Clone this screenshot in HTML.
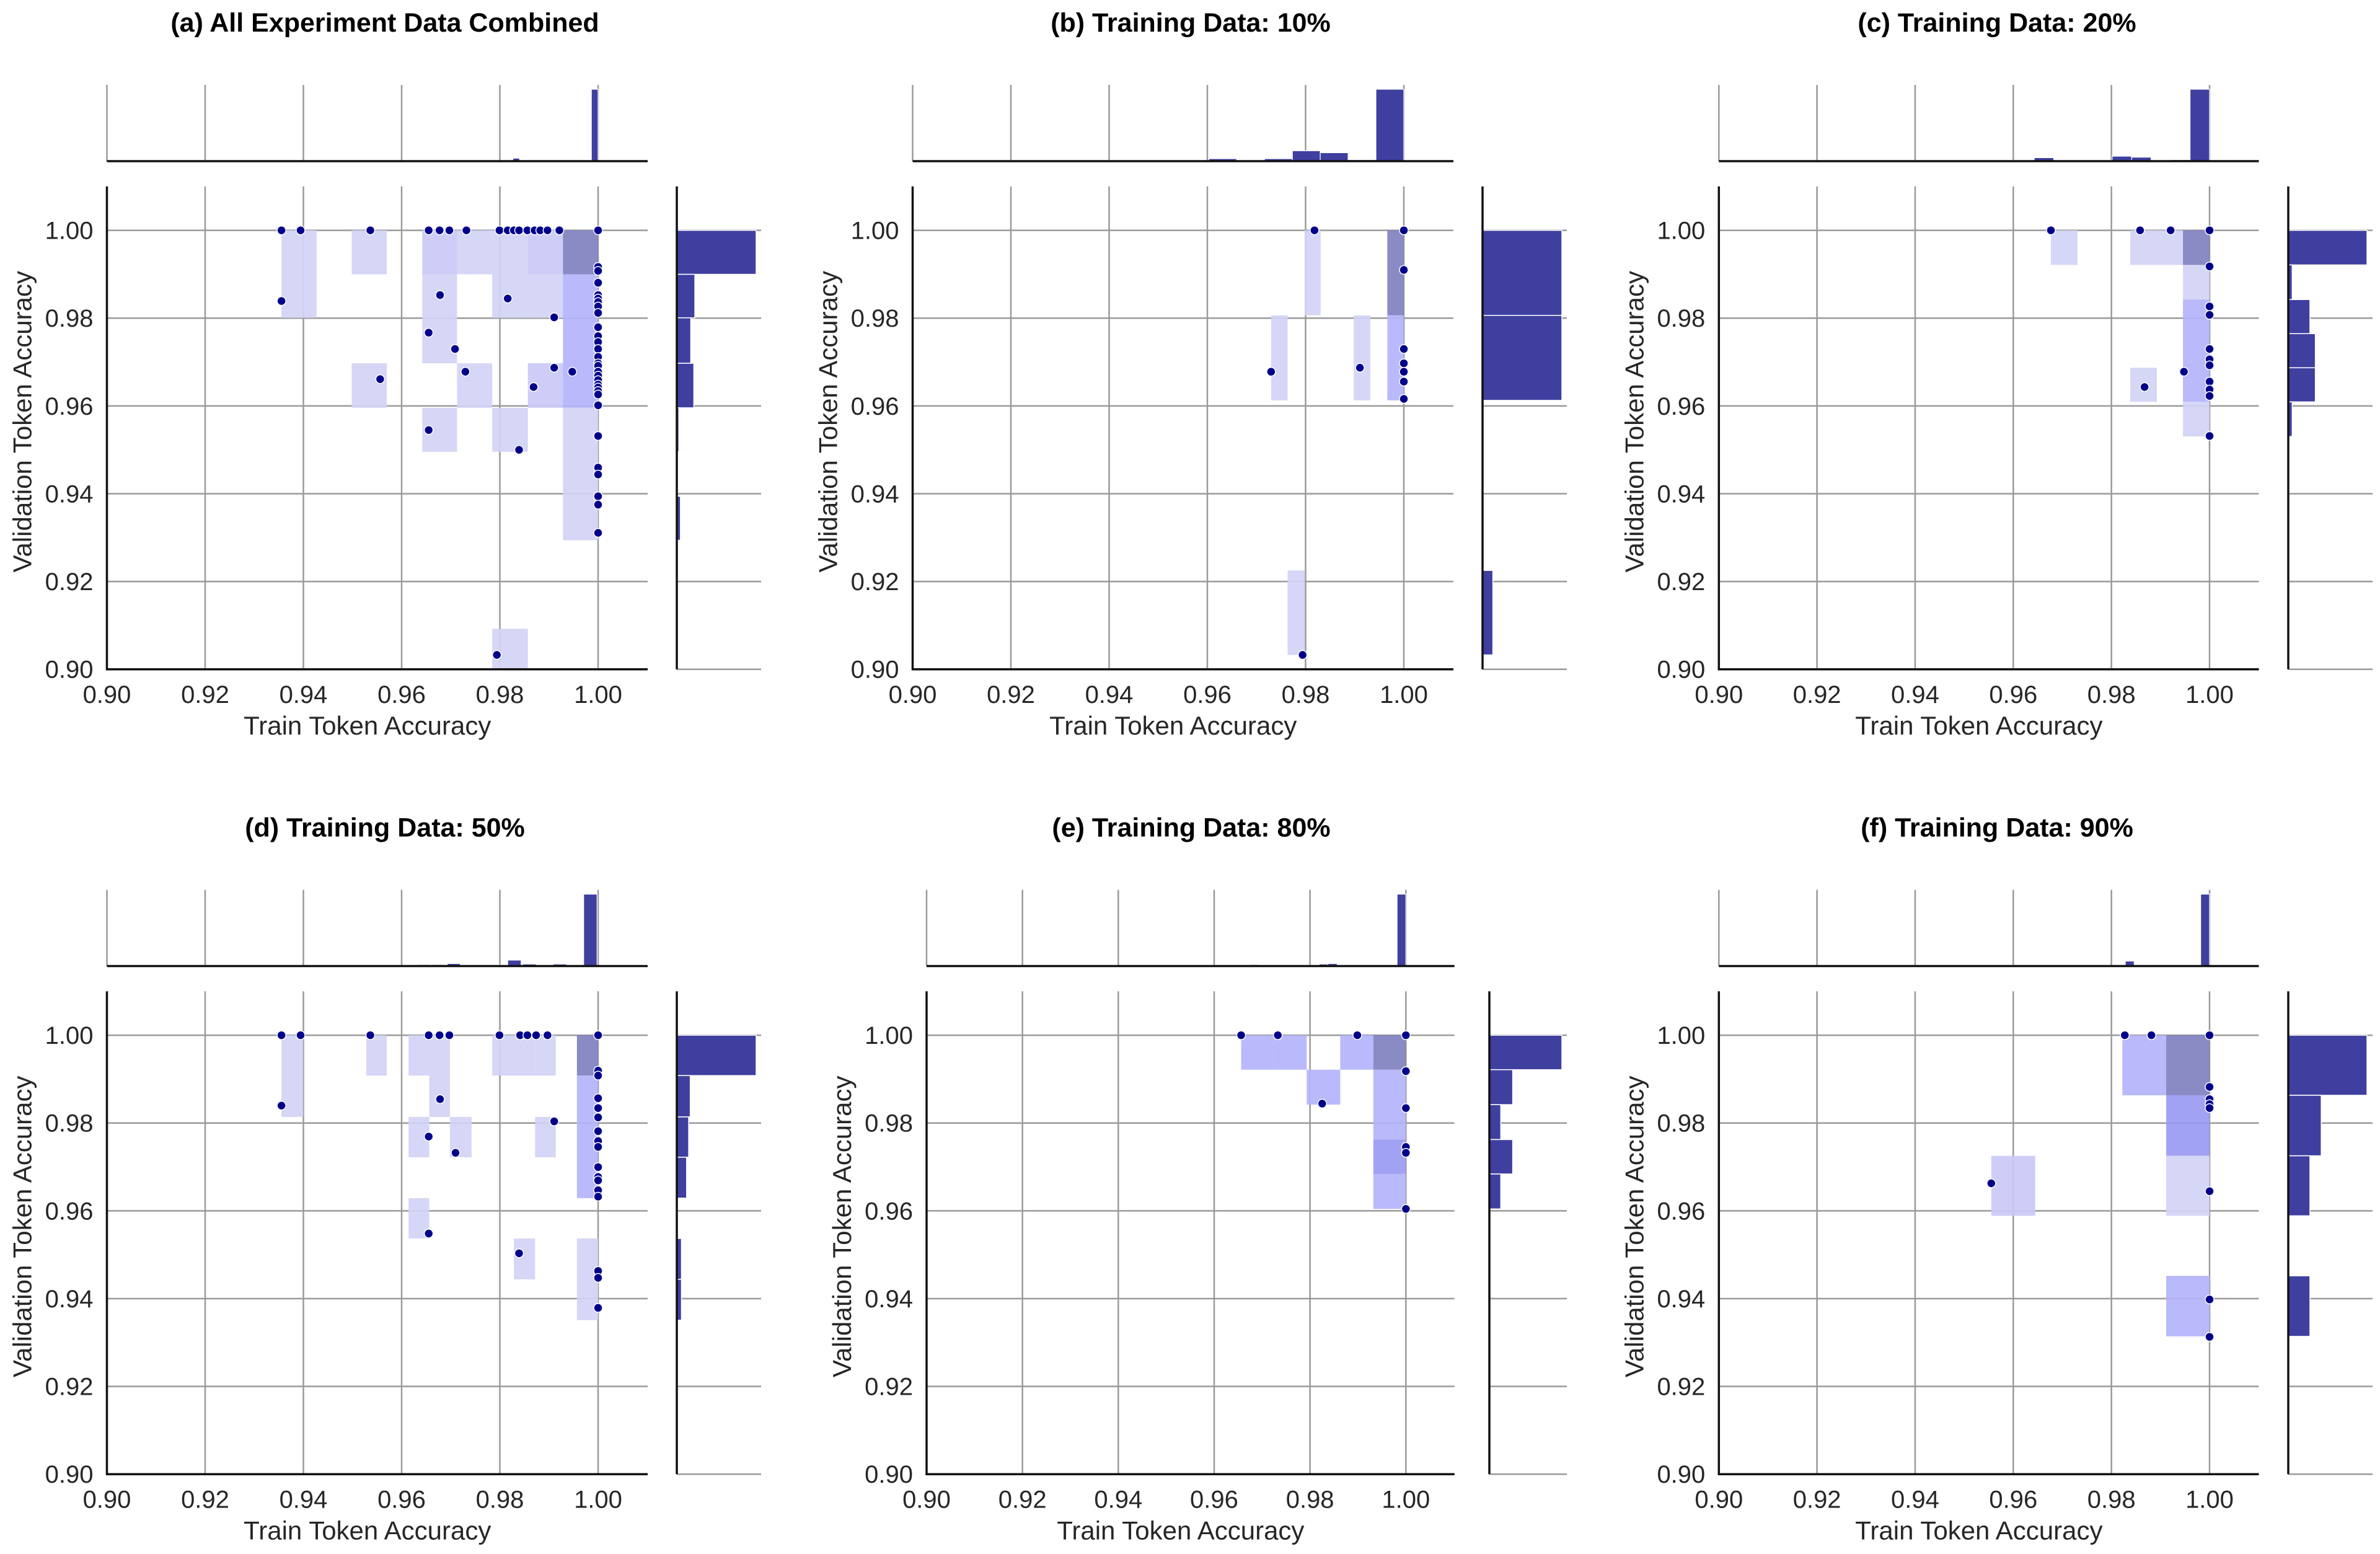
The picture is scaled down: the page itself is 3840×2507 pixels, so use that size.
<!DOCTYPE html>
<html><head><meta charset="utf-8"><style>
html,body{margin:0;padding:0;background:#fff;}
svg{display:block;}
text{font-family:"Liberation Sans",Arial,sans-serif;fill:#262626;}
</style></head><body>
<svg id="chart" width="3840" height="2507" viewBox="0 0 3840 2507" xmlns="http://www.w3.org/2000/svg"></svg>
<script>
// ---------- data ----------
const titles = ["(a) All Experiment Data Combined","(b) Training Data: 10%","(c) Training Data: 20%","(d) Training Data: 50%","(e) Training Data: 80%","(f) Training Data: 90%"];
const xTicks = [0.90,0.92,0.94,0.96,0.98,1.00];
const yTicks = [0.90,0.92,0.94,0.96,0.98,1.00];
const tickLabels = ["0.90","0.92","0.94","0.96","0.98","1.00"];

// points per panel
const ptsX_a = [.93554,.93943,.95363,.96551,.96772,.96972,.97319,.97992,.9816,.98286,.98391,.9856,.98707,.98822,.9897,.99211,1.0,
 .93554,.96782,.9816,.99106,.96551,.97087,.97298,.95563,.98686,.99106,.99474,.96551,.98391,.97939,
 1,1,1,1,1,1,1,1,1,1,1,1,1,1,1,1,1,1,1,1,1,1,1,1,1,1,1,1,1];
const ptsY_a = [1,1,1,1,1,1,1,1,1,1,1,1,1,1,1,1,1,
 .9839,.98525,.98446,.98018,.97669,.97297,.96779,.9661,.9643,.9687,.96779,.9545,.95,.90327,
 .99167,.99077,.98806,.98525,.98446,.98367,.98266,.98119,.97793,.9759,.97455,.97297,.97117,.96971,.96914,.96779,.96689,.96588,.96486,.96419,.9634,.96261,.96014,.95315,.94595,.94437,.93941,.9375,.93108];
const ptsX_b = [.98181,1,1,.97298,.99106,1,1,1,1,1,.97939];
const ptsY_b = [1,1,.99099,.96779,.9687,.97297,.96971,.96779,.96554,.9616,.90327];
const ptsX_c = [.96767,.98584,.99207,1,1,1,1,1,1,1,.99478,.98675,1,1,1,1];
const ptsY_c = [1,1,1,1,.99178,.98266,.98074,.97297,.97061,.96926,.96779,.9643,.96554,.96374,.96227,.95315];
const ptsX_d = [.93554,.93943,.95363,.96551,.96772,.96972,.97992,.98412,.9856,.98738,.9897,1,
 .93554,.96782,.96551,.97098,.99106,.96551,.98391,
 1,1,1,1,1,1,1,1,1,1,1,1,1,1,1,1];
const ptsY_d = [1,1,1,1,1,1,1,1,1,1,1,1,
 .98397,.98543,.97691,.97321,.98038,.95482,.95033,
 .99193,.99081,.98565,.98341,.98128,.97814,.9759,.97455,.96996,.96771,.96693,.96469,.96323,.9463,.94473,.93789];
const ptsX_e = [.96563,.97328,.98987,1,1,1,.98254,1,1,1];
const ptsY_e = [1,1,1,1,.99182,.98341,.98442,.97455,.97321,.96043];
const ptsX_f = [.98273,.98815,1,1,1,1,1,.95552,1,1,1];
const ptsY_f = [1,1,1,.98823,.98543,.9843,.98341,.96626,.96446,.9398,.93128];

// 2D histogram cells: [xlo, xhi, ylo, yhi, density level]
const cells_a = [[.93554,.94269,.98007,1,1],[.94984,.95699,.98998,1,1],[.94984,.95699,.95957,.96971,1],[.96420,.97129,.98998,1,2],[.96420,.97129,.96971,.98998,1],[.96420,.97129,.94955,.95957,1],[.97129,.97844,.98998,1,1],[.97129,.97844,.95957,.96971,1],[.97844,.98570,.98007,1,1],[.97844,.98570,.94955,.95957,1],[.97844,.98570,.9,.90923,1],[.98570,.99285,.98998,1,2],[.98570,.99285,.98007,.98998,1],[.98570,.99285,.95957,.96971,2],[.99285,1,.98998,1,4],[.99285,1,.95957,.98998,3],[.99285,1,.92939,.95957,1]];
const cells_b = [[.97981,.98307,.98063,1,1],[.97298,.97634,.96126,.98063,1],[.9898,.99317,.96126,.98063,1],[.99664,1,.98063,1,4],[.99664,1,.96126,.98063,3],[.97634,.97981,.90327,.92252,1]];
const cells_c = [[.96767,.97309,.99212,1,1],[.98384,.98926,.99212,1,1],[.98926,.99458,.99212,1,1],[.99458,1,.99212,1,4],[.99458,1,.98423,.99212,1],[.99458,1,.96092,.98423,3],[.99458,1,.95304,.96092,1],[.98384,.98926,.96092,.96869,1]];
const cells_d = [[.93554,.93996,.98139,1,1],[.95279,.95699,.99081,1,1],[.96141,.96562,.99081,1,1],[.96562,.96982,.98139,1,1],[.96141,.96562,.9722,.98139,1],[.96982,.97424,.9722,.98139,1],[.96141,.96562,.9537,.96289,1],[.97844,.98286,.99081,1,1],[.98286,.98717,.99081,1,1],[.98717,.99138,.99081,1,1],[.98717,.99138,.9722,.98139,1],[.98286,.98717,.94439,.9537,1],[.99569,1,.99081,1,4],[.99569,1,.96289,.99081,3],[.99569,1,.93509,.9537,1]];
const cells_e = [[.96563,.97252,.99215,1,3],[.97252,.97931,.99215,1,3],[.97931,.98631,.98419,.99215,3],[.98631,.99321,.99215,1,3],[.99321,1,.99215,1,4],[.99321,1,.97623,.99215,3],[.99321,1,.96839,.97623,5],[.99321,1,.96043,.96839,3]];
const cells_f = [[.98223,.99116,.98632,1,3],[.99116,1,.98632,1,4],[.99116,1,.97253,.98632,5],[.99116,1,.95886,.97253,1],[.99116,1,.93139,.94518,3],[.95552,.96446,.95886,.97253,2]];

// top marginal histograms (x bins)
const topLo_a = [.9671,.96845,.98265,.98402,.9900,.99863];
const topHi_a = [.96845,.9698,.98402,.9854,.9920,1.0];
const topCnt_a = [1,1,6,1,0.6,146];
const topLo_b = [.9603,.96597,.97164,.97731,.98298,.98865,.99432];
const topHi_b = [.96597,.97164,.97731,.98298,.98865,.99432,1.0];
const topCnt_b = [5,2,5,21,17,3,145];
const topLo_c = [.9603,.96427,.98015,.98412,.99206,.99603];
const topHi_c = [.96427,.96824,.98412,.98809,.99603,1.0];
const topCnt_c = [2,7,10,8,3,145];
const topLo_d = [.9632,.96614,.96929,.97865,.9816,.98465,.9877,.99085,.99706];
const topHi_d = [.96572,.96877,.97192,.98128,.98433,.98738,.99043,.99359,.99979];
const topCnt_d = [3,3,5,2,12,4,2,4,145];
const topLo_e = [.96746,.96929,.98006,.9819,.98373,.98793,.99817];
const topHi_e = [.96929,.97123,.9819,.98373,.98567,.9917,1.0];
const topCnt_e = [3,2,2,4,5,1,145];
const topLo_f = [.96195,.96546,.98283,.98855,.99819];
const topHi_f = [.96546,.97108,.98464,.99207,1.0];
const topCnt_f = [1,2,10,2,145];

// right marginal histograms (y bins)
const rightLo_a = [.98998,.98007,.96971,.95957,.94955,.92939];
const rightHi_a = [1.0,.98998,.98007,.96971,.95957,.93941];
const rightCnt_a = [154,35,27,33,4,7];
const rightLo_b = [.98063,.96126,.90327];
const rightHi_b = [1.0,.98063,.92252];
const rightCnt_b = [154,154,20];
const rightLo_c = [.99212,.98423,.97646,.96869,.96092,.95304];
const rightHi_c = [1.0,.99212,.98423,.97646,.96869,.96092];
const rightCnt_c = [160,8,44,55,55,8];
const rightLo_d = [.99081,.98139,.9722,.96289,.94439,.93509];
const rightHi_d = [1.0,.99081,.98139,.9722,.9537,.94439];
const rightCnt_d = [154,26,23,19,9,9];
const rightLo_e = [.99215,.98419,.97623,.96839,.96043];
const rightHi_e = [1.0,.99215,.98419,.97623,.96839];
const rightCnt_e = [140,45,22,45,22];
const rightLo_f = [.98632,.97253,.95886,.93139];
const rightHi_f = [1.0,.98632,.97253,.94518];
const rightCnt_f = [160,67,44,44];

const panelData = [
 {px:ptsX_a,py:ptsY_a,cells:cells_a,tl:topLo_a,th:topHi_a,tc:topCnt_a,rl:rightLo_a,rh:rightHi_a,rc:rightCnt_a},
 {px:ptsX_b,py:ptsY_b,cells:cells_b,tl:topLo_b,th:topHi_b,tc:topCnt_b,rl:rightLo_b,rh:rightHi_b,rc:rightCnt_b},
 {px:ptsX_c,py:ptsY_c,cells:cells_c,tl:topLo_c,th:topHi_c,tc:topCnt_c,rl:rightLo_c,rh:rightHi_c,rc:rightCnt_c},
 {px:ptsX_d,py:ptsY_d,cells:cells_d,tl:topLo_d,th:topHi_d,tc:topCnt_d,rl:rightLo_d,rh:rightHi_d,rc:rightCnt_d},
 {px:ptsX_e,py:ptsY_e,cells:cells_e,tl:topLo_e,th:topHi_e,tc:topCnt_e,rl:rightLo_e,rh:rightHi_e,rc:rightCnt_e},
 {px:ptsX_f,py:ptsY_f,cells:cells_f,tl:topLo_f,th:topHi_f,tc:topCnt_f,rl:rightLo_f,rh:rightHi_f,rc:rightCnt_f}
];

// ---------- layout ----------
const colGeom = [
 {x090:172.5,x100:965,xEnd:1045,mL:1092,mMax:128,mEnd:1228,title:621},
 {x090:1472.5,x100:2265,xEnd:2345,mL:2392,mMax:128,mEnd:2528,title:1921},
 {x090:2773.3,x100:3565,xEnd:3644.5,mL:3692,mMax:127,mEnd:3828,title:3222},
 {x090:172.5,x100:965,xEnd:1045,mL:1092,mMax:128,mEnd:1228,title:621},
 {x090:1495,x100:2268.3,xEnd:2346.7,mL:2403,mMax:117,mEnd:2528,title:1922},
 {x090:2773.3,x100:3565,xEnd:3644.5,mL:3692,mMax:127,mEnd:3828,title:3222}
];
const cellColors = {1:"#d3d3f5",2:"#c9c9f6",3:"#b3b3fb",4:"#8080c0",5:"#9a9af4"};
const NS = "http://www.w3.org/2000/svg";
const svg = document.getElementById("chart");
function mk(tag, parent, attrs){
  const el = document.createElementNS(NS, tag);
  for (const k in attrs) el.setAttribute(k, attrs[k]);
  parent.appendChild(el);
  return el;
}
const letters = ["a","b","c","d","e","f"];
for (let p = 0; p < 6; p++) {
  const G = colGeom[p];
  const D = panelData[p];
  const dy = p < 3 ? 0 : 1298.5;
  const y100 = 371.6 + dy, y090 = 1079.7 + dy, yTop = 300.8 + dy;
  const tTop = 137 + dy, tBase = 260 + dy, tMax = 116;
  const sx = v => G.x090 + (v - 0.90) / 0.10 * (G.x100 - G.x090);
  const sy = v => y090 - (v - 0.90) / 0.10 * (y090 - y100);
  const g = mk("g", svg, {});
  
  

  const title = mk("text", g, {x:G.title, y:36+dy+15, "text-anchor":"middle", "font-size":43, "font-weight":"bold"});
  
  
  title.style.fill = "#000";
  title.textContent = titles[p];

  // main grid
  const grid = mk("g", g, {stroke:"#9a9a9a","stroke-width":2.5});
  
  
  xTicks.forEach(t => { mk("line", grid, {x1:sx(t),x2:sx(t),y1:yTop,y2:y090}); mk("line", grid, {x1:sx(t),x2:sx(t),y1:tTop,y2:tBase}); });
  yTicks.forEach(t => { mk("line", grid, {x1:G.x090,x2:G.xEnd,y1:sy(t),y2:sy(t)}); mk("line", grid, {x1:G.mL,x2:G.mEnd,y1:sy(t),y2:sy(t)}); });

  // cells
  D.cells.forEach(c => {
    const r = mk("rect", g, {x:sx(c[0]), y:sy(c[3]), width:sx(c[1])-sx(c[0]), height:sy(c[2])-sy(c[3]), fill:cellColors[c[4]], "fill-opacity":0.92});
    
    
  });

  // points
  for (let i = 0; i < D.px.length; i++) {
    const c = mk("circle", g, {cx:sx(D.px[i]), cy:sy(D.py[i]), r:7, fill:"#00008b", stroke:"#fff", "stroke-width":1.5});
    
    
  }

  // top marginal hist
  const tmax = Math.max(...D.tc);
  for (let i = 0; i < D.tl.length; i++) {
    const h = D.tc[i] / tmax * tMax;
    const b = mk("rect", g, {x:sx(D.tl[i]), y:tBase-h, width:sx(D.th[i])-sx(D.tl[i]), height:h, fill:"#3f3fa0", stroke:"#fff","stroke-width":1.2});
    
    
  }
  // right marginal hist
  const rmax = Math.max(...D.rc);
  for (let i = 0; i < D.rl.length; i++) {
    const w = D.rc[i] / rmax * G.mMax;
    const b = mk("rect", g, {x:G.mL, y:sy(D.rh[i]), width:w, height:sy(D.rl[i])-sy(D.rh[i]), fill:"#3f3fa0", stroke:"#fff","stroke-width":1.5});
    
    
  }

  // spines
  const sp = mk("g", g, {stroke:"#111","stroke-width":3.5});
  
  
  mk("line", sp, {x1:G.x090,x2:G.x090,y1:yTop,y2:y090+1.5});
  mk("line", sp, {x1:G.x090-1.5,x2:G.xEnd,y1:y090,y2:y090});
  mk("line", sp, {x1:G.x090,x2:G.xEnd,y1:tBase,y2:tBase});
  mk("line", sp, {x1:G.mL,x2:G.mL,y1:yTop,y2:y090});

  // tick labels
  xTicks.forEach((t, i) => {
    const tx = mk("text", g, {x:sx(t), y:1120+dy+14, "text-anchor":"middle", "font-size":40});
    
    
    tx.textContent = tickLabels[i];
  });
  yTicks.forEach((t, i) => {
    const ty = mk("text", g, {x:G.x090-22, y:sy(t)+14, "text-anchor":"end", "font-size":40});
    
    
    ty.textContent = tickLabels[i];
  });
  const xl = mk("text", g, {x:(G.x090+G.xEnd)/2 - 16, y:1170+dy+15, "text-anchor":"middle", "font-size":42});
  
  
  xl.textContent = "Train Token Accuracy";
  const ylx = G.x090 - 137, yly = (y090 + yTop) / 2 - 10;
  const yl = mk("text", g, {x:ylx, y:yly, "text-anchor":"middle", "font-size":42, transform:`rotate(-90 ${ylx} ${yly}) translate(0 15)`});
  
  
  yl.textContent = "Validation Token Accuracy";
}
</script>
</body></html>
